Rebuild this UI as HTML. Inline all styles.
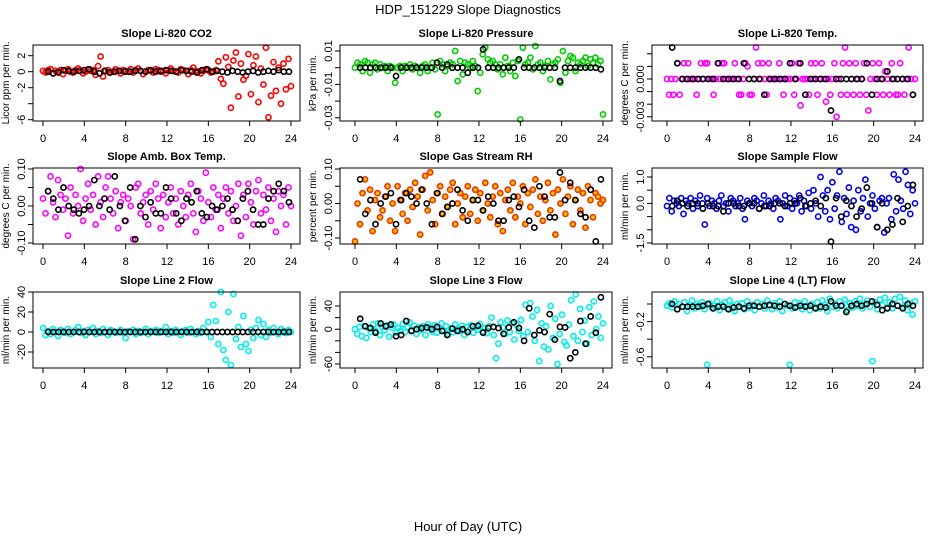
<!DOCTYPE html>
<html><head><meta charset="utf-8"><style>
body{margin:0;background:#fff;}
svg{display:block;font-family:"Liberation Sans",sans-serif;}
</style></head><body>
<svg id="chart" width="936" height="540" viewBox="0 0 936 540">
<text x="468" y="14" text-anchor="middle" font-size="13">HDP_151229  Slope Diagnostics</text>
<text x="468" y="531" text-anchor="middle" font-size="13">Hour of Day (UTC)</text>
</svg>
<script>
// ---- data ----
const co2Color=[0.1,-0.1,0.2,0.3,-0.2,0.1,0.0,0.2,-0.3,0.1,0.3,0.0,-0.1,0.2,0.4,0.1,-0.2,0.0,0.3,0.1,0.2,-0.4,0.7,1.9,-0.6,0.1,0.2,-0.1,0.0,0.3,0.1,-0.2,0.2,0.1,0.0,0.3,-0.1,0.2,0.4,0.1,-0.3,0.0,0.2,0.1,-0.1,0.3,0.2,0.0,0.1,-0.2,0.2,0.4,0.1,0.0,-0.1,0.3,0.2,0.1,-0.3,0.2,0.5,0.1,0.0,-0.2,0.1,0.3,0.2,-0.1,0.0,0.2,1.3,-0.9,-1.5,1.8,0.6,-4.5,1.4,2.4,-3.1,1.0,-1.0,-0.5,2.2,-2.8,0.8,1.9,-3.8,0.4,-1.6,3.0,-5.7,-3.0,1.2,-2.4,0.5,-4.0,1.0,-2.2,1.6,-1.8];
const co2Black=[0.0,-0.2,-0.1,0.2,0.1,0.0,0.1,0.2,0.3,0.0,-0.2,0.1,-0.1,0.0,0.1,0.0,0.0,0.1,0.1,0.0,0.2,0.0,0.1,0.2,0.1,0.0,0.2,0.1,0.0,-0.1,0.2,0.3,0.0,0.1,0.0,-0.1,0.1,0.0,-0.1,0.0,0.1,-0.1,0.0,0.1,0.0,0.2,0.0,0.0];
const presColor=[0,.003,.002,-.002,.004,.003,-.003,.002,.003,-.001,.002,0,.001,-.002,.001,0,-.009,0,.001,-.002,.001,0,.002,-.001,.001,0,-.003,.001,.002,-.002,0,.003,-.001,-.028,.004,.002,-.002,.001,.003,.002,.01,-.008,.004,-.004,.003,.002,0,.004,.001,-.014,-.003,.008,.012,.005,.003,.004,.002,-.001,.002,-.004,.006,.001,-.002,.003,-.005,.004,-.031,.012,.002,.003,.006,-.001,.013,.002,.003,-.002,.001,.004,-.007,.002,.003,.005,-.009,.01,-.003,.004,.007,.006,-.002,.003,.002,.004,.006,.001,.005,.003,.006,.002,.004,-.028];
const presBlack=[0,0,0,0,0,0,0,-.005,0,0,0,0,0,0,0,.003,0,.002,0,0,0,-.003,0,0,.011,0,0,0,0,0,0,.005,0,0,0,0,0,0,0,-.008,0,0,0,0,0,0,0,-.001];
const tempColor=[0,-.00125,0,-.00125,0,.00125,-.00125,0,.00125,0,.00125,0,0,0,-.00125,0,.00125,0,.00125,.00125,0,0,-.00125,0,.00125,0,.00125,.00125,0,0,0,0,.00125,0,-.00125,-.00125,0,.00125,.001,-.00125,-.00125,0,.0025,.00125,0,.00125,0,-.00125,.00125,0,0,0,0,.00125,0,-.00125,0,0,0,.00125,-.00125,0,.00125,-.0021,0,0,0,-.00125,.00125,0,.00125,-.00125,0,.00125,0,-.0018,0,-.00125,0,.00125,-.003,0,-.00125,.00125,.0025,-.00125,.00125,0,-.00125,.00125,0,-.00125,0,.00125,-.00125,-.0025,0,.00125,0,-.00125,.00125,0,-.00125,.0006,0,-.00125,.00125,0,-.00125,-.00125,.00125,0,-.00125,0,.0025,0,-.00125,0];
const tempBlack=[.0025,.00125,0,0,0,0,0,0,0,.00125,0,0,0,0,.00125,0,0,0,-.00125,0,0,0,0,.00125,0,.00125,-.00125,0,0,0,0,-.0025,0,0,0,0,0,0,.00125,-.00125,0,0,.0006,0,0,0,0,-.00125];
const ambColor=[.02,-.02,.04,.08,.01,-.03,.07,.03,-.01,.02,-.08,.05,-.02,.03,.00,.10,-.04,.02,.06,-.01,.03,-.05,.08,.01,-.03,.05,.08,.02,-.02,.04,-.06,.01,.03,-.04,.02,.00,-.09,.05,.06,-.02,.01,.03,-.05,.04,-.01,.06,.02,-.06,.03,-.03,.01,.05,-.02,.02,-.05,.04,.00,-.03,.03,.06,-.02,-.07,.04,.02,-.04,.09,.01,-.03,.05,-.01,.03,-.06,.02,.05,-.02,.04,-.04,.00,.06,-.08,.03,-.03,.06,.01,-.05,.04,.07,-.02,.03,-.01,.05,-.04,.02,-.07,.04,.00,.03,-.05,.05,.00];
const ambBlack=[.04,.02,-.01,.05,.00,-.01,-.02,-.01,.00,.07,.00,.02,-.01,.08,.00,-.04,.05,-.09,.00,-.03,.01,-.02,-.02,.05,.02,-.02,-.04,.02,.01,.04,-.02,-.03,.00,-.01,.00,.02,-.01,-.04,.02,.04,-.01,-.05,-.05,.02,.04,.06,.04,.01];
const rhColor=[-.11,.00,-.06,.03,.07,-.02,.04,-.08,.01,.03,-.04,-.02,.02,.05,-.05,.00,-.08,.05,.01,-.03,.03,-.05,.04,-.01,.06,.02,-.09,.04,.08,-.02,.09,.01,-.06,.03,.05,-.03,.02,-.01,.04,.06,-.06,.00,.03,-.04,.02,.05,-.03,.01,.04,-.05,.03,-.02,.06,.00,-.04,.02,.05,-.06,.03,-.08,.01,.04,-.02,.06,-.04,.02,.00,.05,-.06,.03,-.01,.04,.07,-.03,.02,-.05,.01,.06,-.02,.03,-.09,.04,.00,.07,-.03,.02,.05,-.06,.01,.04,-.02,.03,-.07,.05,.01,-.04,.03,.02,.00,.01];
const rhBlack=[.07,-.03,.01,-.06,.00,.02,.03,-.06,.01,.03,.02,.00,.04,.00,-.06,.03,-.03,-.01,.00,.04,-.02,-.05,.01,.01,-.02,.02,.00,-.05,-.05,.01,.02,-.01,.04,-.05,-.07,.05,.02,-.04,-.04,.09,.01,.06,.01,-.03,-.04,.04,-.11,.07];
const sampleColor=[-.1,.2,-.3,.1,.0,-.1,.2,-.4,.1,.0,.2,-.2,.1,-.1,.3,.0,-.8,.2,-.1,.1,.0,-.2,.1,.3,-.1,.0,-.3,.2,.1,-.1,.0,.2,-.2,-.6,.1,.0,-.1,.2,.1,-.2,.0,.3,-.1,.1,.0,-.2,.2,.1,-.6,.0,.3,-.1,.2,-.2,.1,.0,.3,-.3,.1,-.1,.4,-.2,.5,.0,-.5,1.0,.3,-.3,.5,-.6,.8,-.2,.3,1.2,-.7,.2,-.4,.6,-.9,.1,-1.0,.5,-.3,.2,.9,-.5,.0,.3,-.2,-.9,.1,.2,-1.1,.0,.2,-.6,1.1,-.3,.9,.1,-.2,1.2,.7,-.4,.5,.0];
const sampleBlack=[-.1,.1,.0,-.1,.0,.0,-.2,.0,-.1,-.1,-.3,.0,.0,-.1,-.1,.0,.0,-.2,-.1,-.1,.0,.0,-.1,.0,.0,.2,-.1,.0,.1,-.1,.2,-1.45,.2,-.5,.1,-.1,-.5,-.2,.6,.0,-.9,.0,-1.0,-.8,.2,-.7,-.1,.7];
const line2Color=[4,-3,1,-2,3,0,-4,2,1,-1,3,-2,0,2,5,-1,1,-3,2,0,4,-2,1,-1,3,0,-3,2,1,-1,0,2,-1,-6,1,0,2,-2,1,-1,0,3,-2,1,0,2,-1,1,0,5,-2,1,-1,2,0,-3,1,2,-1,3,0,-2,1,-1,4,0,10,-5,27,11,-12,40,-18,-28,20,-33,38,-7,5,-15,16,-12,-19,2,-6,4,12,-3,8,-5,2,-1,4,0,-2,3,1,-1,2,0];
const line2Black=[0,0,0,0,0,0,0,0,0,0,0,0,0,0,0,0,0,0,0,0,0,0,0,0,0,0,0,0,0,0,0,0,0,0,0,0,0,0,0,0,0,0,0,0,0,0,0,0];
const line3Color=[0,-8,4,-12,6,-15,2,-5,8,-3,10,-10,4,-2,7,-13,3,8,-6,2,-3,9,-5,4,12,-2,6,-8,3,-1,5,-10,8,2,-4,7,-6,3,10,-2,5,-8,2,-5,8,0,-3,6,-10,4,-2,7,-6,3,-1,9,-4,2,-7,5,20,-10,-50,-25,12,3,-8,15,-5,10,-18,8,-3,16,-12,42,-5,45,22,-20,33,-55,10,-30,5,-35,40,-15,18,-60,-8,25,-22,-28,8,50,-12,60,-20,35,-5,15,-25,38,-10,48,0,22,-15,10];
const line3Black=[18,5,2,-6,10,5,8,-12,-10,14,-3,0,2,3,0,4,-3,-10,1,-3,0,-5,5,6,-6,2,4,2,-8,3,12,2,-20,36,-10,-2,-5,26,-18,4,3,-50,-40,14,-25,22,-6,55];
const line4Color=[-.02,.01,-.04,.03,-.06,.0,-.03,.02,-.08,-.01,.04,-.05,.0,-.03,.02,-.06,-.69,.01,-.04,-.02,.03,-.07,-.01,.02,-.05,.04,-.02,-.08,.0,-.03,.01,-.06,.03,-.04,-.01,-.07,.02,-.03,.0,-.05,.04,-.02,-.06,.01,-.04,.03,-.08,.0,-.02,-.69,-.05,.02,-.03,.01,-.06,.03,-.02,-.07,.0,-.04,.02,-.05,.04,-.01,-.08,.06,-.03,.0,-.05,.03,-.02,.05,-.07,.01,-.04,.03,-.02,.06,-.05,.0,.04,-.03,-.65,.02,-.06,.05,-.01,.07,-.04,.02,-.05,.06,-.02,.08,-.03,.04,-.07,.01,-.12,.03];
const line4Black=[.0,-.06,-.03,-.03,-.03,-.03,-.02,.0,-.05,-.03,-.03,-.06,-.04,-.03,-.05,-.02,-.02,-.03,-.02,-.01,-.02,-.03,.0,-.02,-.04,-.02,-.03,-.02,-.05,-.03,-.04,.03,-.02,-.02,-.09,-.02,.0,-.02,.0,.03,-.01,-.07,-.05,.0,-.02,-.05,.0,-.02];
const xTicks=[0,4,8,12,16,20,24];

// ---- layout ----
const NS="http://www.w3.org/2000/svg";
const svg=document.getElementById('chart');
function mk(tag,attrs,parent){const e=document.createElementNS(NS,tag);for(const k in attrs)e.setAttribute(k,attrs[k]);(parent||svg).appendChild(e);return e;}
const cols=[{l:33,r:300,x0:43,x24:291},{l:340,r:612,x0:355,x24:603},{l:652,r:923,x0:667,x24:915}];
const rows=[{t:45,b:121},{t:168,b:244},{t:292,b:368}];
const panels=[
 {name:'co2',title:'Slope Li-820 CO2',ylab:'Licor ppm per min.',c:0,r:0,y0:71.7,k:8,ticks:[2,0,-2,-4,-6],labels:{'2':'2','0':'0','-2':'-2','-6':'-6'},col:'#ff0000',fill:'none',a:co2Color,b:co2Black},
 {name:'pressure',title:'Slope Li-820 Pressure',ylab:'kPa per min.',c:1,r:0,y0:67.7,k:1670,ticks:[.01,0,-.01,-.02,-.03],labels:{'0.01':'0.01','-0.01':'-0.01','-0.03':'-0.03'},col:'#00cc00',fill:'none',a:presColor,b:presBlack},
 {name:'temp',title:'Slope Li-820 Temp.',ylab:'degrees C per min.',c:2,r:0,y0:79,k:12600,ticks:[.002,.001,0,-.001,-.002,-.003],labels:{'0':'0.000','-0.003':'-0.003'},col:'#ff00ff',fill:'none',a:tempColor,b:tempBlack},
 {name:'amb-box-temp',title:'Slope Amb. Box Temp.',ylab:'degrees C per min.',c:0,r:1,y0:206,k:370,ticks:[.1,.05,0,-.05,-.1],labels:{'0.1':'0.10','0':'0.00','-0.1':'-0.10'},col:'#ff00ff',fill:'none',a:ambColor,b:ambBlack},
 {name:'gas-stream-rh',title:'Slope Gas Stream RH',ylab:'percent per min.',c:1,r:1,y0:203.5,k:345,ticks:[.1,.05,0,-.05,-.1],labels:{'0.1':'0.10','0':'0.00','-0.1':'-0.10'},col:'#ee3300',fill:'#ffc400',a:rhColor,b:rhBlack},
 {name:'sample-flow',title:'Slope Sample Flow',ylab:'ml/min per min.',c:2,r:1,y0:203.4,k:26.4,ticks:[1,.5,0,-.5,-1,-1.5],labels:{'1':'1.0','0':'0.0','-1.5':'-1.5'},col:'#0000ee',fill:'none',a:sampleColor,b:sampleBlack},
 {name:'line2-flow',title:'Slope Line 2 Flow',ylab:'ml/min per min.',c:0,r:2,y0:332,k:1.0,ticks:[40,20,0,-20],labels:{'40':'40','20':'20','0':'0','-20':'-20'},col:'#00eeee',fill:'none',a:line2Color,b:line2Black},
 {name:'line3-flow',title:'Slope Line 3 Flow',ylab:'ml/min per min.',c:1,r:2,y0:329.2,k:0.58,ticks:[40,20,0,-20,-40,-60],labels:{'40':'40','0':'0','-60':'-60'},col:'#00eeee',fill:'none',a:line3Color,b:line3Black},
 {name:'line4-flow',title:'Slope Line 4 (LT) Flow',ylab:'ml/min per min.',c:2,r:2,y0:304,k:88,ticks:[0,-.2,-.4,-.6],labels:{'-0.2':'-0.2','-0.6':'-0.6'},col:'#00eeee',fill:'none',a:line4Color,b:line4Black}
];
panels.forEach(p=>{
 const C=cols[p.c],R=rows[p.r];
 const xs=h=>C.x0+(C.x24-C.x0)*h/24;
 const ys=v=>p.y0-v*p.k;
 const g=mk('g',{});
 
 
 const t=mk('text',{x:(C.l+C.r)/2,y:R.t-8,'text-anchor':'middle','font-size':11,'font-weight':'bold'},g);
 t.textContent=p.title;
 
 
 const yl=mk('text',{transform:`translate(${C.l-24},${(R.t+R.b)/2}) rotate(-90)`,'text-anchor':'middle','font-size':10},g);
 yl.textContent=p.ylab;
 
 
 // points
 const pts=mk('g',{},g);
 
 
 p.a.forEach((v,i)=>{
  const h=i*24/(p.a.length-1);
  const c=mk('circle',{cx:xs(h),cy:ys(v),r:2.6,fill:p.fill,stroke:p.col,'stroke-width':1.6},pts);
  
  
 });
 const bpts=mk('g',{},g);
 
 
 p.b.forEach((v,i)=>{
  const h=0.5+i*23.3/(p.b.length-1);
  const c=mk('circle',{cx:xs(h),cy:ys(v),r:2.6,fill:'none',stroke:'#000','stroke-width':1.6},bpts);
  
  
 });
 const box=mk('rect',{x:C.l,y:R.t,width:C.r-C.l,height:R.b-R.t,fill:'none',stroke:'#000','stroke-width':1},g);
 
 
 // x axis
 const xa=mk('g',{},g);
 
 
 xTicks.forEach(h=>{
  mk('line',{x1:xs(h),x2:xs(h),y1:R.b,y2:R.b+5,stroke:'#000'},xa);
  const tl=mk('text',{x:xs(h),y:R.b+21,'text-anchor':'middle','font-size':11},xa);
  tl.textContent=h;
  
  
 });
 // y axis
 const ya=mk('g',{},g);
 
 
 p.ticks.forEach(v=>{
  const y=ys(v);
  mk('line',{x1:C.l-5,x2:C.l,y1:y,y2:y,stroke:'#000'},ya);
  const key=String(v);
  if(p.labels[key]!==undefined){
   const tl=mk('text',{transform:`translate(${C.l-8},${y}) rotate(-90)`,'text-anchor':'middle','font-size':11},ya);
   tl.textContent=p.labels[key];
   
   
  }
 });
});
</script>
</body></html>
